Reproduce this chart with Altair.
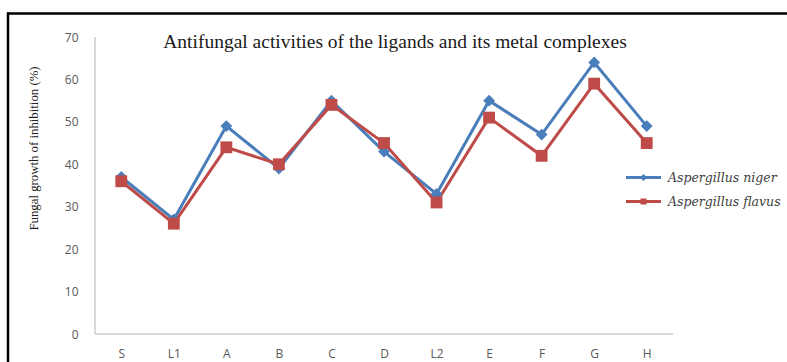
import altair as alt
import pandas as pd

categories = ["S", "L1", "A", "B", "C", "D", "L2", "E", "F", "G", "H"]
niger = [37, 27, 49, 39, 55, 43, 33, 55, 47, 64, 49]
flavus = [36, 26, 44, 40, 54, 45, 31, 51, 42, 59, 45]
series_names = ["Aspergillus niger", "Aspergillus flavus"]
colors = ["#4A7EBB", "#BE4B48"]
title_text = "Antifungal activities of the ligands and its metal complexes"

rows = []
for s, vals in zip(series_names, [niger, flavus]):
    for c, v in zip(categories, vals):
        rows.append({"cat": c, "value": v, "series": s})
df = pd.DataFrame(rows)

W, H = 578, 297
PL, PT = 95, 37
AXIS_GRAY = "#cccccc"

x_enc = alt.X("cat:N", sort=categories, title=None,
              axis=alt.Axis(labelAngle=0, ticks=False, domain=False,
                            labelFont="Open Sans", labelFontSize=12, labelColor="#595959",
                            labelPadding=14, grid=False))
y_enc = alt.Y("value:Q", scale=alt.Scale(domain=[0, 70], nice=False),
              title="Fungal growth of inhibition (%)",
              axis=alt.Axis(values=[0, 10, 20, 30, 40, 50, 60, 70], ticks=False, grid=False,
                            domain=False,
                            labelFont="Open Sans", labelFontSize=12, labelColor="#595959",
                            labelPadding=17, titleFont="Liberation Serif", titleFontSize=12.8,
                            titleFontWeight="normal", titleColor="#222222",
                            titleX=33 - PL, titleY=148 - PT, titleAngle=270,
                            titleAlign="center", titleBaseline="middle"))

color_scale = alt.Scale(domain=series_names, range=colors)

lines = alt.Chart(df).mark_line(strokeWidth=3).encode(
    x=x_enc, y=y_enc,
    color=alt.Color("series:N", scale=color_scale, legend=None),
    detail="series:N",
)

points = alt.Chart(df).mark_point(filled=True, opacity=1).encode(
    x=x_enc, y=y_enc,
    color=alt.Color("series:N", scale=color_scale, legend=None),
    shape=alt.Shape("series:N", scale=alt.Scale(domain=series_names, range=["diamond", "square"]), legend=None),
    size=alt.Size("series:N", scale=alt.Scale(domain=series_names, range=[140, 140]), legend=None),
)

leg_shapes = [
    "M-1,-0.085H1V0.085H-1Z M0,-0.2L0.2,0L0,0.2L-0.2,0Z",
    "M-1,-0.085H1V0.085H-1Z M-0.17,-0.17H0.17V0.17H-0.17Z",
]
leg_args = dict(title=None, orient="none", legendX=531, legendY=123,
                symbolSize=1225, symbolStrokeWidth=0,
                labelFont="DejaVu Serif", labelFontStyle="italic",
                labelFontSize=12.5, labelColor="#404040",
                rowPadding=0, labelOffset=7)
legend_layer = alt.Chart(df).transform_filter("false").mark_point(filled=True, opacity=1).encode(
    x=x_enc, y=y_enc,
    color=alt.Color("series:N", scale=color_scale, legend=alt.Legend(**leg_args)),
    shape=alt.Shape("series:N", scale=alt.Scale(domain=series_names, range=leg_shapes),
                    legend=alt.Legend(**leg_args)),
)

one = pd.DataFrame({"a": [0]})
# outer black frame of the figure (top and left edges)
frame_top = alt.Chart(one).mark_rule(color="black", strokeWidth=2.5).encode(
    x=alt.value(7 - PL), x2=alt.value(787 - PL), y=alt.value(13.5 - PT))
frame_left = alt.Chart(one).mark_rule(color="black", strokeWidth=2.5).encode(
    x=alt.value(8 - PL), y=alt.value(12.5 - PT), y2=alt.value(362 - PT))
# hide any view outline on top/right
mask_top = alt.Chart(one).mark_rule(color="white", strokeWidth=3).encode(
    x=alt.value(2), x2=alt.value(W + 2), y=alt.value(0))
mask_right = alt.Chart(one).mark_rule(color="white", strokeWidth=3).encode(
    x=alt.value(W), y=alt.value(-2), y2=alt.value(H - 2))
# axis lines (left and bottom)
axis_left = alt.Chart(one).mark_rule(color=AXIS_GRAY, strokeWidth=1.5).encode(
    x=alt.value(0), y=alt.value(0), y2=alt.value(H))
axis_bottom = alt.Chart(one).mark_rule(color=AXIS_GRAY, strokeWidth=1.5).encode(
    x=alt.value(0), x2=alt.value(W), y=alt.value(H))
title_mark = alt.Chart(one).mark_text(
    font="Liberation Serif", fontSize=19.5, fontWeight="normal", color="#1a1a1a",
    align="center", baseline="alphabetic").encode(
    x=alt.value(395 - PL), y=alt.value(48 - PT), text=alt.value(title_text))

chart = alt.layer(frame_top, frame_left, mask_top, mask_right, axis_left, axis_bottom,
                  lines, points, legend_layer, title_mark).resolve_scale(
    color="independent", shape="independent", size="independent"
).properties(
    width=W, height=H, autosize="none", background="white",
    padding={"left": PL, "top": PT, "right": 787 - PL - W, "bottom": 362 - PT - H},
    view=alt.ViewBackground(stroke=None),
).configure_view(stroke=None)

chart.save("out.html", embed_options={"renderer": "svg", "actions": False})
